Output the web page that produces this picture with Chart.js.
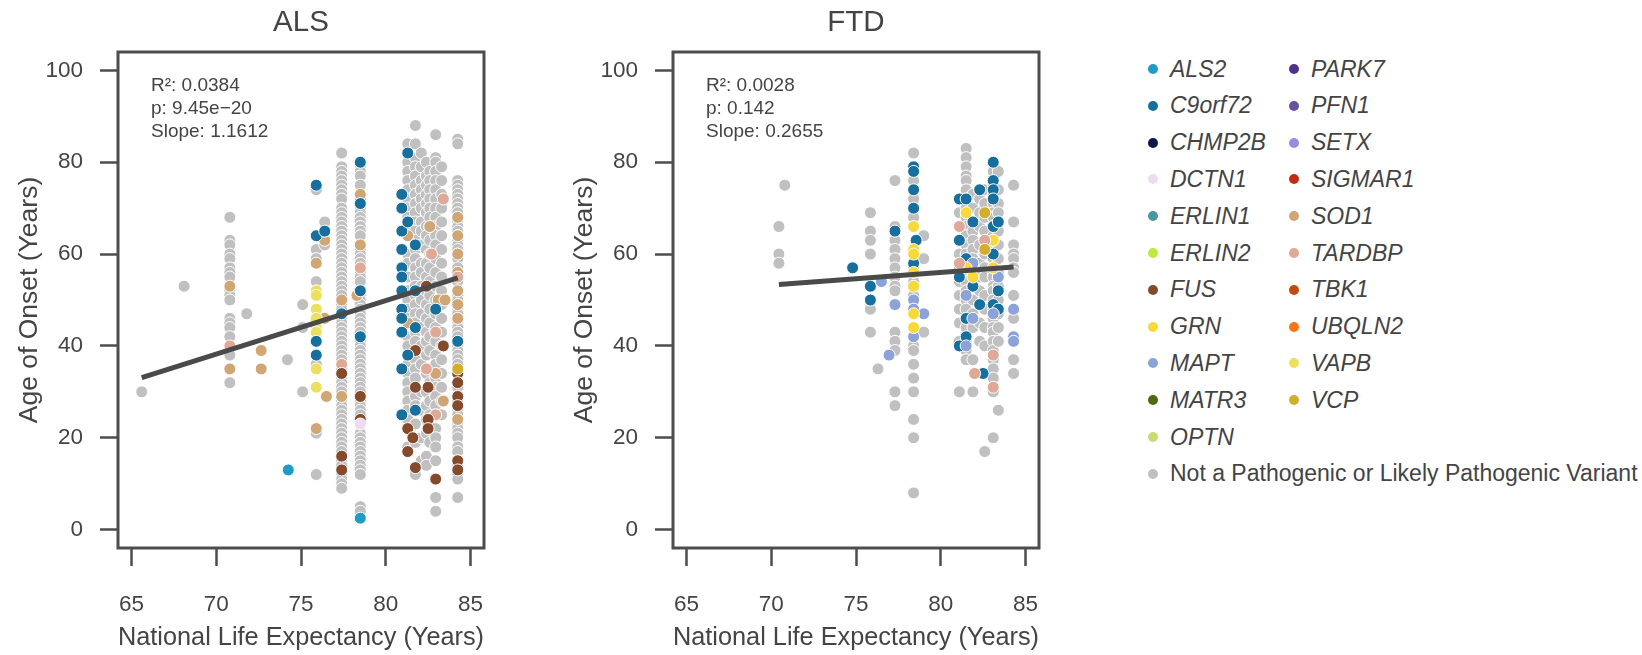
<!DOCTYPE html>
<html>
<head>
<meta charset="utf-8">
<script src="https://cdn.jsdelivr.net/npm/chart.js@4.4.1/dist/chart.umd.min.js"></script>
<style>
  body { margin: 0; background: #fff; width: 1642px; height: 655px; overflow: hidden; position: relative; font-family: "Liberation Sans", Arial, sans-serif; }
  canvas { position: absolute; top: 0; }
  #als { left: 0; }
  #ftd { left: 555px; }
  .item { position: absolute; height: 30px; display: flex; align-items: center; font-size: 23px; color: #444; white-space: nowrap; }
  .item i { font-style: italic; }
  .dot { width: 10px; height: 10px; border-radius: 50%; margin-right: 12px; flex: none; }
</style>
</head>
<body>
<canvas id="als" width="520" height="655"></canvas>
<canvas id="ftd" width="520" height="655"></canvas>
<div id="legend"></div>
<script>
// genes + colours, same order as the legend
const genes = ['ALS2', 'C9orf72', 'CHMP2B', 'DCTN1', 'ERLIN1', 'ERLIN2', 'FUS', 'GRN', 'MAPT', 'MATR3', 'OPTN',
  'PARK7', 'PFN1', 'SETX', 'SIGMAR1', 'SOD1', 'TARDBP', 'TBK1', 'UBQLN2', 'VAPB', 'VCP'];
const geneColors = ['#1f9bc4', '#166f9c', '#0b1848', '#f0dcef', '#4798a3', '#bdeb3b', '#844a2b', '#f7da3a', '#8ca3d9', '#4c6a10', '#c8dc73',
  '#4e3388', '#6652a1', '#9a8bdf', '#bf2e10', '#cfa674', '#e0a997', '#c24a0e', '#fd7416', '#ede05e', '#d3ae2c'];
const otherLabel = 'Not a Pathogenic or Likely Pathogenic Variant';
const otherColor = '#c0c0c0';

const xTicks = [65, 70, 75, 80, 85];
const yTicks = [0, 20, 40, 60, 80, 100];

// ---- ALS panel ----
// grey points, per country: [life expectancy, [ages of onset]]
const alsOther = [
  [65.6, [30]],
  [68.1, [53]],
  [70.8, [68, 63, 62, 60, 59, 57, 56, 55, 52, 51, 50, 46, 45, 44, 42, 38, 32]],
  [71.8, [47]],
  [74.2, [37]],
  [75.1, [49, 44, 30]],
  [75.9, [74, 61, 59, 54, 36, 21, 12]],
  [76.4, [67, 62]],
  [77.4, [82, 79, 78, 77, 76, 75, 74, 73, 72, 70, 69, 68, 67, 66, 65, 64, 63, 62, 61, 60, 59, 58, 57, 56, 55, 54, 53, 52, 51, 49,
          48, 46, 45, 44, 43, 42, 41, 40, 39, 38, 37, 35, 33, 32, 31, 30, 28, 27, 26, 25, 24, 23, 22, 21, 20, 19, 18, 17, 15, 14, 12, 11, 10, 9]],
  [78.5, [79, 78, 77, 75, 72, 70, 69, 68, 67, 66, 65, 64, 61, 60, 59, 58, 56, 55, 54, 51, 50, 49, 48, 47, 46, 45, 44, 43, 41, 40,
          39, 38, 37, 36, 35, 34, 33, 32, 31, 30, 28, 27, 26, 25, 21, 20, 19, 18, 17, 16, 15, 14, 13, 12, 5, 4]],
  [81.3, [84, 80, 78, 76, 74, 72, 70, 68, 66, 64, 60, 58, 55, 52, 50, 48, 46, 42, 40, 36, 34, 32, 30, 28, 26, 24, 18, 17]],
  [81.75, [88, 84, 81, 79, 77, 75, 73, 71, 69, 67, 65, 63, 61, 59, 57, 55, 53, 51, 49, 47, 45, 43, 41, 37, 35, 33, 29, 27, 23, 19, 12]],
  [82.1, [82, 79, 76, 74, 72, 70, 67, 65, 62, 58, 56, 53, 50, 47, 44, 40, 36, 30, 26, 20, 15]],
  [82.4, [80, 77, 75, 73, 71, 69, 66, 64, 61, 58, 55, 52, 49, 46, 43, 41, 38, 34, 30, 27, 24, 21, 16, 14]],
  [82.6, [78, 76, 74, 72, 70, 68, 66, 63, 60, 57, 54, 51, 48, 45, 42, 39, 35, 32, 28, 25, 22, 19]],
  [82.95, [86, 81, 80, 78, 76, 74, 72, 70, 68, 66, 64, 62, 59, 56, 53, 50, 47, 44, 41, 38, 36, 33, 31, 29, 27, 25, 22, 20, 18, 15, 7, 4]],
  [83.3, [79, 76, 73, 70, 67, 64, 61, 58, 55, 52, 49, 46, 43, 40, 37, 34, 31, 28, 25]],
  [84.25, [85, 84, 76, 75, 74, 73, 72, 71, 70, 69, 68, 67, 66, 65, 64, 63, 62, 61, 60, 59, 57, 56, 55, 54, 51, 50, 49, 48, 47, 46,
           45, 44, 43, 42, 40, 39, 38, 37, 36, 34, 31, 28, 26, 25, 24, 23, 22, 21, 20, 18, 17, 15, 14, 12, 11, 7]]
];
const alsALS2 = [[74.25, 13], [78.5, 2.5]];
const alsC9orf72 = [[75.9, 75], [75.9, 64], [75.9, 41], [75.9, 38], [76.4, 65], [77.4, 47], [78.5, 80], [78.5, 71], [78.5, 52], [78.5, 42],
  [80.95, 73], [80.95, 70], [80.95, 65], [80.95, 61], [80.95, 57], [80.95, 55], [80.95, 52], [80.95, 48], [80.95, 46], [80.95, 43],
  [80.95, 35], [80.95, 25], [81.3, 82], [81.3, 67], [81.3, 38], [81.75, 62], [81.75, 52], [81.75, 44], [81.75, 26], [82.95, 48], [84.25, 41]];
const alsDCTN1 = [[78.5, 23]];
const alsFUS = [[77.4, 34], [77.4, 16], [77.4, 13], [78.5, 29], [78.5, 24], [81.75, 39], [81.75, 31], [82.5, 31], [81.3, 22], [81.6, 20],
  [81.3, 17], [82.5, 24], [82.5, 22], [82.95, 11], [81.75, 13.5], [82.4, 53], [83.4, 40],
  [84.25, 34], [84.25, 32], [84.25, 29], [84.25, 27], [84.25, 15], [84.25, 13]];
const alsSOD1 = [[70.8, 35], [70.8, 53], [72.65, 39], [72.65, 35], [75.9, 58], [75.9, 22], [76.4, 63], [76.4, 46], [76.5, 29],
  [77.4, 50], [77.4, 29], [78.5, 73], [78.5, 62], [78.3, 51], [81.3, 64], [81.3, 45], [82.6, 66], [83.1, 50], [83.5, 50], [82.95, 34],
  [83.4, 28], [84.25, 68], [84.25, 64], [84.25, 60], [84.25, 56], [84.25, 52], [84.25, 49], [84.25, 46], [84.25, 24]];
const alsTARDBP = [[70.8, 40], [77.4, 36], [78.5, 57], [82.95, 43], [82.95, 25], [83.4, 72], [82.7, 60], [84.25, 55], [82.4, 35]];
const alsVAPB = [[75.9, 52], [75.9, 51], [75.9, 48], [75.9, 46], [75.9, 44], [75.9, 43], [75.9, 35], [75.9, 31]];
const alsVCP = [[84.25, 35]];
const alsFit = [[65.6, 33.1], [84.25, 54.8]];
const alsStats = ['R\u00b2: 0.0384', 'p: 9.45e\u221220', 'Slope: 1.1612'];

// ---- FTD panel ----
const ftdOther = [
  [70.45, [66, 60, 58]],
  [70.8, [75]],
  [75.85, [69, 65, 63, 60, 48, 43]],
  [76.3, [35]],
  [77.3, [76, 66, 63, 61, 59, 57, 55, 53, 52, 43, 41, 39, 30, 27]],
  [78.4, [82, 76, 72, 68, 57, 54, 51, 40, 39, 36, 33, 30, 24, 20, 8]],
  [79.0, [64, 59, 43]],
  [81.1, [69, 66, 63, 60, 57, 54, 51, 48, 45, 41, 30]],
  [81.5, [83, 81, 79, 77, 76, 74, 72, 70, 68, 66, 64, 62, 60, 58, 56, 54, 52, 50, 48, 46, 44, 41, 39, 37]],
  [81.9, [73, 70, 67, 65, 63, 61, 59, 56, 53, 50, 47, 44, 37, 30]],
  [82.3, [74, 72, 69, 66, 62, 58, 55, 52, 49, 45, 41]],
  [82.6, [74, 71, 68, 65, 60, 57, 55, 51, 48, 44, 40, 17]],
  [83.1, [78, 75, 73, 71, 69, 68, 66, 64, 62, 60, 59, 57, 56, 55, 53, 52, 50, 48, 46, 44, 43, 41, 39, 37, 35, 33, 30, 20]],
  [83.4, [78, 74, 71, 69, 65, 62, 59, 56, 53, 50, 47, 44, 41, 26]],
  [84.3, [75, 67, 62, 60, 59, 57, 56, 51, 46, 37, 34]]
];
const ftdC9orf72 = [[74.8, 57], [75.85, 53], [75.85, 50], [77.3, 65], [78.4, 79], [78.4, 78], [78.4, 74], [78.4, 70], [78.55, 63], [78.4, 58],
  [81.1, 72], [81.1, 63], [81.1, 55], [81.1, 40], [81.5, 72], [81.5, 59], [81.5, 46], [81.5, 42], [81.9, 67], [81.9, 53], [82.3, 49],
  [82.5, 34], [82.3, 74], [83.1, 80], [83.1, 76], [83.1, 74], [83.1, 72], [83.1, 66], [83.1, 60], [83.1, 49], [83.4, 67], [83.4, 52], [83.4, 48]];
const ftdGRN = [[78.4, 66], [78.4, 61], [78.4, 60], [78.4, 56], [78.4, 53], [78.4, 47], [78.4, 44], [81.5, 69], [81.5, 57], [83.1, 63],
  [83.1, 57], [81.9, 55]];
const ftdMAPT = [[76.5, 54], [77.3, 49], [76.95, 38], [78.4, 50], [78.4, 48], [78.4, 42], [79.0, 47], [81.5, 51], [81.5, 40], [81.9, 46],
  [81.9, 58], [83.1, 47], [83.4, 55], [84.3, 48], [84.3, 42], [84.3, 41]];
const ftdTARDBP = [[81.1, 66], [81.1, 58], [82.6, 63], [82.0, 34], [83.1, 38], [83.1, 31]];
const ftdVCP = [[82.6, 69], [82.6, 61]];
const ftdFit = [[70.45, 53.4], [84.3, 57.2]];
const ftdStats = ['R\u00b2: 0.0028', 'p: 0.142', 'Slope: 0.2655'];

const textColor = '#444';
const axisColor = '#4d4d4d';
const family = '"Liberation Sans", Arial, sans-serif';

// box round the plot, panel title and the fit numbers
const panelDecor = {
  id: 'panelDecor',
  afterDraw(chart, args, opts) {
    const {ctx, chartArea: a} = chart;
    ctx.save();
    ctx.strokeStyle = axisColor;
    ctx.lineWidth = 3;
    ctx.strokeRect(a.left, a.top, a.right - a.left, a.bottom - a.top);
    ctx.fillStyle = textColor;
    ctx.textAlign = 'center';
    ctx.textBaseline = 'middle';
    ctx.font = '29.5px ' + family;
    ctx.fillText(opts.title, (a.left + a.right) / 2, 23);
    ctx.font = '19px ' + family;
    ctx.textAlign = 'left';
    opts.stats.forEach((s, i) => ctx.fillText(s, a.left + 33, 86 + i * 23));
    ctx.restore();
  }
};

function toXY(pairs) {
  return pairs.map(p => ({x: p[0], y: p[1]}));
}

function makeChart(id, title, stats, sets, other, fit) {
  const datasets = [{
    label: 'fit', data: toXY(fit), showLine: true, borderColor: '#4a4a4a', borderWidth: 5,
    pointRadius: 0, order: 0
  }];
  sets.forEach(([gene, pts]) => {
    datasets.push({label: gene, data: toXY(pts), backgroundColor: geneColors[genes.indexOf(gene)], order: 1});
  });
  const greyPts = [];
  other.forEach(([x, ys]) => ys.forEach(y => greyPts.push([x, y])));
  datasets.push({label: otherLabel, data: toXY(greyPts), backgroundColor: otherColor, order: 2});

  new Chart(document.getElementById(id).getContext('2d'), {
    type: 'scatter',
    data: {datasets: datasets},
    options: {
      animation: false,
      responsive: false,
      events: [],
      layout: {padding: {top: 52, right: 36, left: 0, bottom: 0}},
      elements: {point: {radius: 6, borderWidth: 1, borderColor: '#ffffff'}},
      plugins: {
        legend: {display: false},
        tooltip: {enabled: false},
        panelDecor: {title: title, stats: stats}
      },
      scales: {
        x: {
          type: 'linear', min: 64.2, max: 85.8,
          afterBuildTicks: s => { s.ticks = xTicks.map(v => ({value: v})); },
          afterFit: s => { s.height = 107; },
          grid: {drawOnChartArea: false, drawTicks: true, tickLength: 18, tickWidth: 2.5, tickColor: axisColor},
          border: {display: false},
          ticks: {padding: 25, autoSkip: false, maxRotation: 0, color: textColor, font: {size: 22.5, family: family}},
          title: {display: true, text: 'National Life Expectancy (Years)', color: textColor,
                  font: {size: 26.5, family: family}, padding: {top: 0, bottom: 1}}
        },
        y: {
          type: 'linear', min: -4, max: 104,
          afterBuildTicks: s => { s.ticks = yTicks.map(v => ({value: v})); },
          afterFit: s => { s.width = 118; },
          grid: {drawOnChartArea: false, drawTicks: true, tickLength: 18, tickWidth: 2.5, tickColor: axisColor},
          border: {display: false},
          ticks: {padding: 17, color: textColor, font: {size: 22.5, family: family}},
          title: {display: true, text: 'Age of Onset (Years)', color: textColor,
                  font: {size: 26.5, family: family}, padding: {top: 14, bottom: 0}}
        }
      }
    },
    plugins: [panelDecor]
  });
}

makeChart('als', 'ALS', alsStats,
  [['ALS2', alsALS2], ['VCP', alsVCP], ['DCTN1', alsDCTN1], ['C9orf72', alsC9orf72], ['FUS', alsFUS], ['VAPB', alsVAPB],
   ['TARDBP', alsTARDBP], ['SOD1', alsSOD1]],
  alsOther, alsFit);

makeChart('ftd', 'FTD', ftdStats,
  [['VCP', ftdVCP], ['TARDBP', ftdTARDBP], ['GRN', ftdGRN], ['MAPT', ftdMAPT], ['C9orf72', ftdC9orf72]],
  ftdOther, ftdFit);

// legend: two columns of genes, grey class at the bottom
const legend = document.getElementById('legend');
const colX = [1148, 1289];
const rowTop = 54;
const rowStep = 36.8;
function addItem(col, row, color, html) {
  const d = document.createElement('div');
  d.className = 'item';
  d.style.left = colX[col] + 'px';
  d.style.top = (rowTop + row * rowStep) + 'px';
  d.innerHTML = '<span class="dot" style="background:' + color + '"></span>' + html;
  legend.appendChild(d);
}
genes.forEach((g, i) => {
  const col = i < 11 ? 0 : 1;
  const row = i < 11 ? i : i - 11;
  addItem(col, row, geneColors[i], '<i>' + g + '</i>');
});
addItem(0, 11, otherColor, otherLabel);
</script>
</body>
</html>
